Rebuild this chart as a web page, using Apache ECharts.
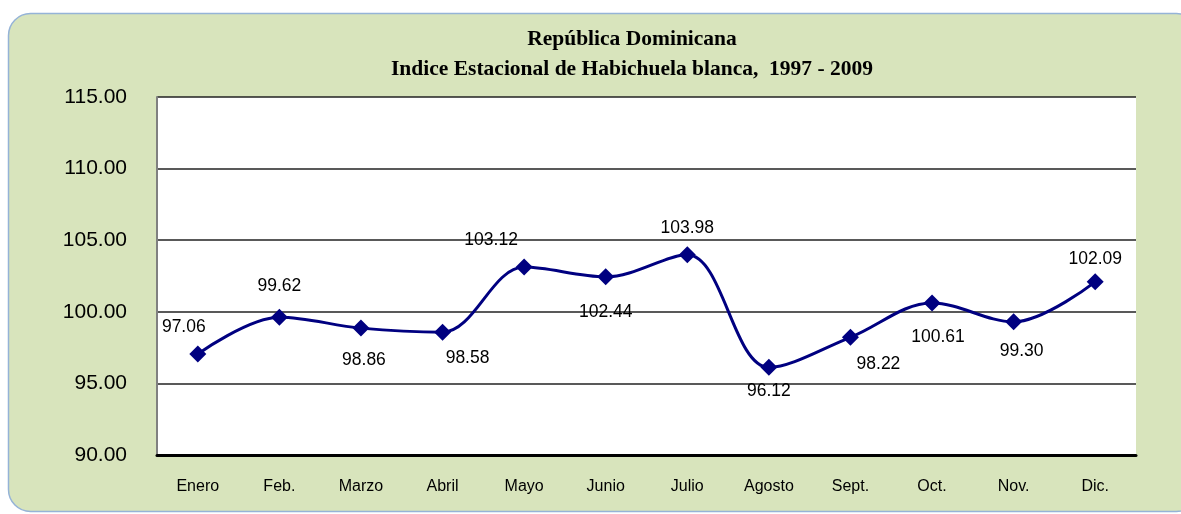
<!DOCTYPE html>
<html>
<head>
<meta charset="utf-8">
<script src="https://cdn.jsdelivr.net/npm/echarts@6/dist/echarts.min.js"></script>
<style>
  html, body { margin: 0; padding: 0; background: #fff; }
  #main { width: 1181px; height: 514px; }
</style>
</head>
<body>
<div id="main"></div>
<script>
var meses = ['Enero', 'Feb.', 'Marzo', 'Abril', 'Mayo', 'Junio', 'Julio', 'Agosto', 'Sept.', 'Oct.', 'Nov.', 'Dic.'];
var indice = [97.06, 99.62, 98.86, 98.58, 103.12, 102.44, 103.98, 96.12, 98.22, 100.61, 99.30, 102.09];
var yTicks = [90, 95, 100, 105, 110, 115];

// where each value label sits relative to its point
var labelOffsets = [[-14, -27], [0, -31], [3, 32], [25, 26], [-33, -27], [0, 35],
                    [0, -27], [0, 24], [28, 27], [6, 34], [8, 29], [0, -23]];

var myChart = echarts.init(document.getElementById('main'));

var puntos = indice.map(function (v, i) {
    return {
        value: v,
        label: { offset: labelOffsets[i] }
    };
});

option = {
    animation: false,
    backgroundColor: '#ffffff',
    graphic: [{
        type: 'rect',
        z: -10,
        shape: { x: 8.5, y: 13.5, width: 1190, height: 498, r: 22 },
        style: { fill: '#d8e4bc', stroke: '#95b3d7', lineWidth: 1.5 }
    }],
    title: {
        text: 'República Dominicana\nIndice Estacional de Habichuela blanca,  1997 - 2009',
        left: 627,
        top: 19,
        textAlign: 'center',
        textStyle: {
            fontFamily: 'Liberation Serif',
            fontWeight: 'bold',
            fontSize: 21.5,
            lineHeight: 30,
            color: '#000'
        }
    },
    grid: {
        left: 157,
        top: 97,
        width: 979,
        height: 358,
        show: true,
        backgroundColor: '#ffffff',
        borderWidth: 0
    },
    xAxis: {
        type: 'category',
        data: meses,
        boundaryGap: true,
        axisLine: { lineStyle: { color: '#000', width: 3 } },
        axisTick: { show: false },
        axisLabel: {
            color: '#000',
            fontFamily: 'Liberation Sans',
            fontSize: 16,
            margin: 24
        }
    },
    yAxis: {
        type: 'value',
        min: yTicks[0],
        max: yTicks[yTicks.length - 1],
        interval: 5,
        axisLine: { show: true, lineStyle: { color: '#808080', width: 2 } },
        axisTick: { show: false },
        axisLabel: {
            color: '#000',
            fontFamily: 'Liberation Sans',
            fontSize: 21,
            margin: 30,
            formatter: function (v) { return v.toFixed(2); }
        },
        splitLine: { lineStyle: { color: '#222', width: 1.5 } }
    },
    series: [{
        name: 'Indice',
        type: 'line',
        data: puntos,
        smooth: 0.35,
        symbol: 'diamond',
        symbolSize: 17,
        lineStyle: { color: '#000080', width: 3 },
        itemStyle: { color: '#000080' },
        label: {
            show: true,
            position: 'inside',
            color: '#000',
            fontFamily: 'Liberation Sans',
            fontSize: 17.5,
            formatter: function (p) { return p.value.toFixed(2); }
        }
    }]
};

myChart.setOption(option);
</script>
</body>
</html>
